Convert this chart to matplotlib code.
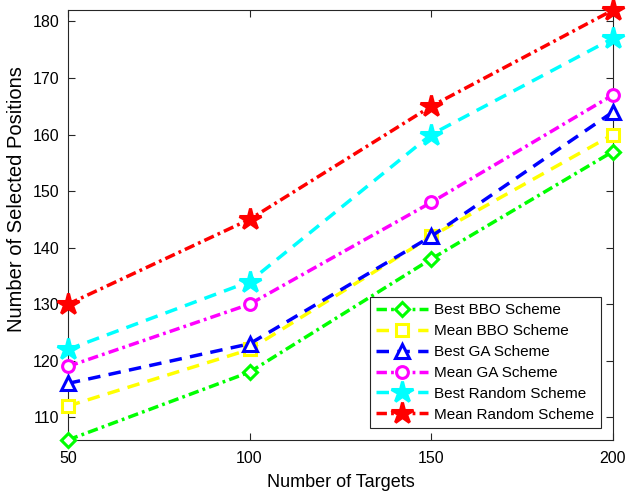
import matplotlib
matplotlib.use('Agg')
import matplotlib.pyplot as plt

plt.rcParams.update({
    'font.family': ['Liberation Sans', 'DejaVu Sans'],
    'font.size': 11,
    'xtick.direction': 'in',
    'ytick.direction': 'in',
    'xtick.top': True,
    'ytick.right': True,
    'axes.linewidth': 0.8,
    'axes.edgecolor': '#262626',
    'lines.scale_dashes': False,
})

targets = [50, 100, 150, 200]
best_bbo = [106, 118, 138, 157]
mean_bbo = [112, 122, 142, 160]
best_ga = [116, 123, 142, 164]
mean_ga = [119, 130, 148, 167]
best_random = [122, 134, 160, 177]
mean_random = [130, 145, 165, 182]

dash = (0, (9, 6))
dashdot = (0, (7.5, 3, 2, 3))

series = [
    ('Best BBO Scheme', best_bbo, '#00ff00', dashdot, 'D', 'white', 7.5),
    ('Mean BBO Scheme', mean_bbo, '#ffff00', dash, 's', 'white', 8),
    ('Best GA Scheme', best_ga, '#0000ff', dash, '^', 'white', 10.5),
    ('Mean GA Scheme', mean_ga, '#ff00ff', dashdot, 'o', 'white', 8.5),
    ('Best Random Scheme', best_random, '#00ffff', dash, '*', None, 16),
    ('Mean Random Scheme', mean_random, '#ff0000', dashdot, '*', None, 16),
]

fig = plt.figure(figsize=(6.28, 4.93), dpi=100)
ax = fig.add_axes([0.108, 0.1075, 0.868, 0.872])

for label, vals, col, ls, mk, mfc, ms in series:
    ax.plot(targets, vals, color=col, linestyle=ls, linewidth=2.5,
            marker=mk, markersize=ms, markerfacecolor=mfc if mfc else col,
            markeredgecolor=col, markeredgewidth=2.2, label=label,
            clip_on=False, zorder=3)

ax.set_xlim(50, 200)
ax.set_ylim(106, 182)
ax.set_xticks([50, 100, 150, 200])
ax.set_yticks(range(110, 181, 10))
ax.tick_params(length=5, width=0.8, colors='#262626', labelcolor='black', labelsize=11.5)
ax.tick_params(axis='x', pad=8)
ax.tick_params(axis='y', pad=6)
ax.set_xlabel('Number of Targets', fontsize=13, labelpad=6)
ax.set_ylabel('Number of Selected Positions', fontsize=14.5)
ax.yaxis.set_label_coords(-0.077, 0.56)

leg = ax.legend(loc='lower right', fancybox=False, edgecolor='#262626',
                framealpha=1, fontsize=11, handlelength=3.4,
                borderaxespad=0.8, labelspacing=0.45, borderpad=0.4,
                handletextpad=0.4)
leg.get_frame().set_linewidth(0.8)

fig.savefig('out.png', dpi=100)
